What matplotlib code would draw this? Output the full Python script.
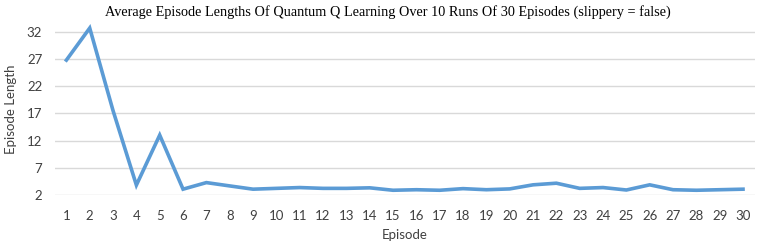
import matplotlib.pyplot as plt
import numpy as np

# Datos
episodes = list(range(1, 31))
lengths = [26.8, 32.7, 17.5, 3.8, 13.0, 3.05, 4.26, 3.65, 3.05, 3.2,
           3.35, 3.2, 3.2, 3.3, 2.85, 2.95, 2.85, 3.15, 2.95, 3.1,
           3.85, 4.15, 3.2, 3.35, 2.9, 3.85, 2.95, 2.85, 2.95, 3.05]
y_ticks = [2, 7, 12, 17, 22, 27, 32]

fig = plt.figure(figsize=(7.6, 2.47), dpi=100)
ax = fig.add_axes([0.072, 0.211, 0.921, 0.693])

ax.plot(episodes, lengths, color='#5B9BD5', lw=2.6, solid_joinstyle='miter', zorder=3)

ax.set_xlim(0.5, 30.5)
ax.set_ylim(2, 33.5)
ax.set_xticks(episodes)
ax.set_yticks(y_ticks)
ax.yaxis.grid(True, color='#d9d9d9', lw=1)
ax.set_axisbelow(True)
for s in ax.spines.values():
    s.set_visible(False)
ax.tick_params(length=0, labelsize=9.5, colors='#404040')
ax.tick_params(axis='x', pad=11)
ax.tick_params(axis='y', pad=9)
for lab in ax.get_xticklabels() + ax.get_yticklabels():
    lab.set_family('Lato')

ax.set_xlabel('Episode', family='Lato', fontsize=9.5, color='#404040', labelpad=5)
ax.set_ylabel('Episode Length', family='Lato', fontsize=9.5, color='#404040', labelpad=7)
fig.suptitle('Average Episode Lengths Of Quantum Q Learning Over 10 Runs Of 30 Episodes (slippery = false)',
             family='Liberation Serif', fontsize=10.3, y=0.98, x=0.51, color='black')

fig.savefig('out.png', dpi=100)
